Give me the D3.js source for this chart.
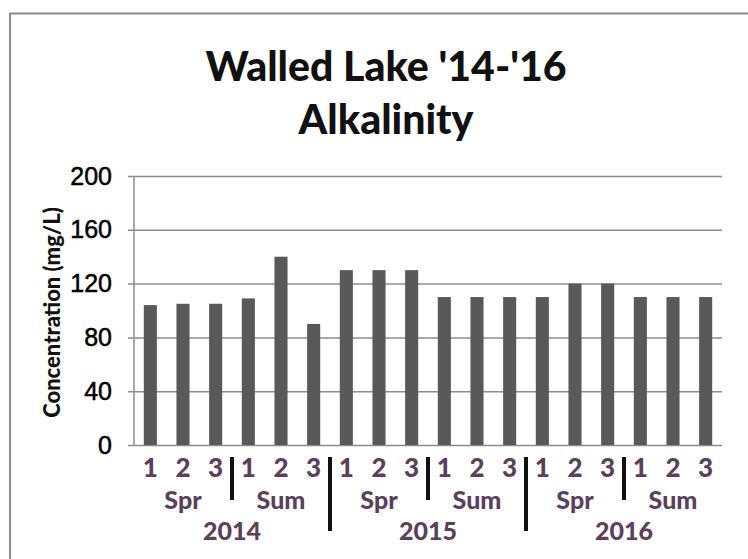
<!DOCTYPE html>
<html>
<head>
<meta charset="utf-8">
<script src="https://cdn.jsdelivr.net/npm/d3@7"></script>
<style>
  body { margin: 0; background: #fff; }
  svg { display: block; font-family: Lato, "Open Sans", sans-serif; }
</style>
</head>
<body>
<div id="container"></div>
<script>
/**
 * DATA
 * */
const years = ['2014', '2015', '2016']
const seasons = ['Spr', 'Sum']
const samples = ['1', '2', '3']
const alkalinity = [104, 105, 105, 109, 140, 90, 130, 130, 130, 110, 110, 110, 110, 120, 120, 110, 110, 110]
const yTicks = [0, 40, 80, 120, 160, 200]

/**
 * CONSTANTS
 * */
const width = 748,
  height = 559,
  margin = { top: 176, bottom: 114, left: 134, right: 26 }

const labelColor = '#5b3f5b'

// one row per bar: year / season / sample
const rows = []
years.forEach(y => seasons.forEach(s => samples.forEach(n => rows.push({ year: y, season: s, sample: n }))))
rows.forEach((r, i) => { r.value = alkalinity[i]; r.key = i })

const svg = d3.select('#container')
  .append('svg')
  .attr('width', width)
  .attr('height', height)

// chart frame (scan edge)
svg.append('path')
  .attr('d', `M10,${height} V13.5 H${width}`)
  .attr('fill', 'none')
  .attr('stroke', '#8a8a8a')
  .attr('stroke-width', 2)

// title
const title = svg.append('text')
  .attr('text-anchor', 'middle')
  .attr('font-weight', 900)
  .attr('font-size', 41)
  .attr('fill', '#111')
title.append('tspan').attr('x', 386).attr('y', 81).text("Walled Lake '14-'16")
title.append('tspan').attr('x', 386).attr('y', 134).text('Alkalinity')

const x = d3.scaleBand()
  .domain(rows.map(d => d.key))
  .range([margin.left, width - margin.right])
  .paddingInner(0.6)
  .paddingOuter(0.3)

const y = d3.scaleLinear()
  .domain([0, 200])
  .range([height - margin.bottom, margin.top])

// gridlines + y axis
const yAxis = svg.append('g')
  .attr('transform', `translate(${margin.left},0)`)
  .call(d3.axisLeft(y).tickValues(yTicks).tickSize(-(width - margin.left - margin.right)).tickPadding(22))
yAxis.select('.domain').remove()
yAxis.selectAll('.tick line')
  .attr('x1', -6)
  .attr('stroke', '#8c8c8c')
  .attr('stroke-width', 1.5)
yAxis.selectAll('.tick text')
  .attr('font-size', 25)
  .attr('fill', '#000')
  .attr('stroke', '#000')
  .attr('stroke-width', 0.5)

// axis line
svg.append('line')
  .attr('x1', margin.left).attr('x2', margin.left)
  .attr('y1', y(200)).attr('y2', y(0))
  .attr('stroke', '#8c8c8c')
  .attr('stroke-width', 1.5)

// bars
svg.selectAll('.bar')
  .data(rows)
  .join('rect')
  .attr('class', 'bar')
  .attr('x', d => x(d.key))
  .attr('width', x.bandwidth())
  .attr('y', d => y(d.value))
  .attr('height', d => y(0) - y(d.value))
  .attr('fill', '#595959')

// y axis title
svg.append('text')
  .attr('transform', `translate(60,${(y(0) + y(200)) / 2 + 2}) rotate(-90)`)
  .attr('text-anchor', 'middle')
  .attr('font-weight', 900)
  .attr('font-size', 22)
  .attr('fill', '#111')
  .text('Concentration (mg/L)')

// x labels: sample numbers
const step = x.step()
svg.selectAll('.sample')
  .data(rows)
  .join('text')
  .attr('class', 'sample')
  .attr('x', d => x(d.key) + x.bandwidth() / 2)
  .attr('y', 477)
  .attr('text-anchor', 'middle')
  .attr('font-size', 26)
  .attr('font-weight', 900)
  .attr('fill', labelColor)
  .text(d => d.sample)

// season labels
const seasonGroups = d3.groups(rows, d => d.year + d.season)
svg.selectAll('.season')
  .data(seasonGroups)
  .join('text')
  .attr('class', 'season')
  .attr('x', d => x(d[1][1].key) + x.bandwidth() / 2)
  .attr('y', 509)
  .attr('text-anchor', 'middle')
  .attr('font-size', 25)
  .attr('font-weight', 900)
  .attr('fill', labelColor)
  .text(d => d[1][0].season)

// year labels
const yearGroups = d3.groups(rows, d => d.year)
svg.selectAll('.year')
  .data(yearGroups)
  .join('text')
  .attr('class', 'year')
  .attr('x', d => (x(d[1][0].key) + x(d[1][d[1].length - 1].key) + x.bandwidth()) / 2)
  .attr('y', 540)
  .attr('text-anchor', 'middle')
  .attr('font-size', 25)
  .attr('font-weight', 900)
  .attr('fill', labelColor)
  .text(d => d[0])

// separators between seasons (short) and years (long)
const seps = rows.filter((d, i) => i > 0 && i % samples.length === 0)
svg.selectAll('.sep')
  .data(seps)
  .join('line')
  .attr('class', 'sep')
  .attr('x1', d => x(d.key) - step * x.paddingInner() / 2)
  .attr('x2', d => x(d.key) - step * x.paddingInner() / 2)
  .attr('y1', 457)
  .attr('y2', d => d.season === 'Spr' ? 531 : 500)
  .attr('stroke', '#111')
  .attr('stroke-width', 4)
</script>
</body>
</html>
